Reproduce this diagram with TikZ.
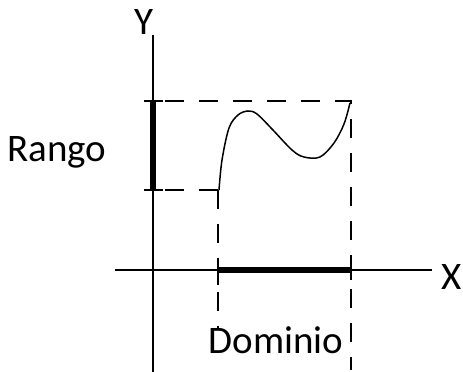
\documentclass[tikz,border=0pt]{standalone}
\usepackage{fontspec}
\setmainfont{Carlito}
\begin{document}
\begin{tikzpicture}[x=1pt,y=-1pt,
  axisline/.style={line width=1.6pt,black},
  barline/.style={line width=6.5pt,black},
  tickline/.style={line width=2pt,black},
  guide/.style={line width=1.6pt,dash pattern=on 19pt off 15pt},
  curveline/.style={line width=1.5pt},
  lab/.style={font=\fontsize{39}{42}\selectfont,inner sep=0pt}]
\useasboundingbox (0,0) rectangle (463,372);
% coordinates
\coordinate (ytop) at (153,35);
\coordinate (ybot) at (153,372);
\coordinate (xl) at (115,270);
\coordinate (xr) at (432,270);
\coordinate (rtop) at (153,101);
\coordinate (rbot) at (153,190);
\coordinate (dl) at (218,270);
\coordinate (dr) at (351,270);
\coordinate (cornerTR) at (351,101);
\coordinate (cornerBL) at (218,190);
\coordinate (dashLend) at (218,330);
\coordinate (dashRend) at (351,370);
% axes
\draw[axisline] (ytop) -- (ybot);
\draw[axisline] (xl) -- (xr);
% range and domain bars
\draw[barline] (rtop) -- (rbot);
\draw[barline] (dl) -- (dr);
% ticks
\draw[tickline] ([xshift=-9pt]rtop) -- ([xshift=10pt]rtop);
\draw[tickline] ([xshift=-9pt]rbot) -- ([xshift=10pt]rbot);
\draw[tickline] ([yshift=-15pt]dl) -- ([yshift=10pt]dl);
\draw[tickline] ([yshift=-10pt]dr) -- ([yshift=11pt]dr);
% guides
\draw[guide] ([xshift=12pt]rtop) -- (cornerTR) -- (dashRend);
\draw[guide] ([xshift=12pt]rbot) -- (cornerBL);
\draw[guide] (cornerBL) -- (dashLend);
% curve
\draw[curveline] plot[smooth,tension=0.55] coordinates {(219,190) (222,160) (229,128) (238,115) (248,111) (257,114) (272,129) (292,150) (304,157) (320,157) (334,143) (344,124) (350,103)};
% labels
\node[lab] (Y) at (144,22) {Y};
\node[lab] (X) at (452,277) {X};
\node[lab] (R) at (57,152) {Rango};
\node[lab] (D) at (276,340) {Dominio};
\end{tikzpicture}
\end{document}
